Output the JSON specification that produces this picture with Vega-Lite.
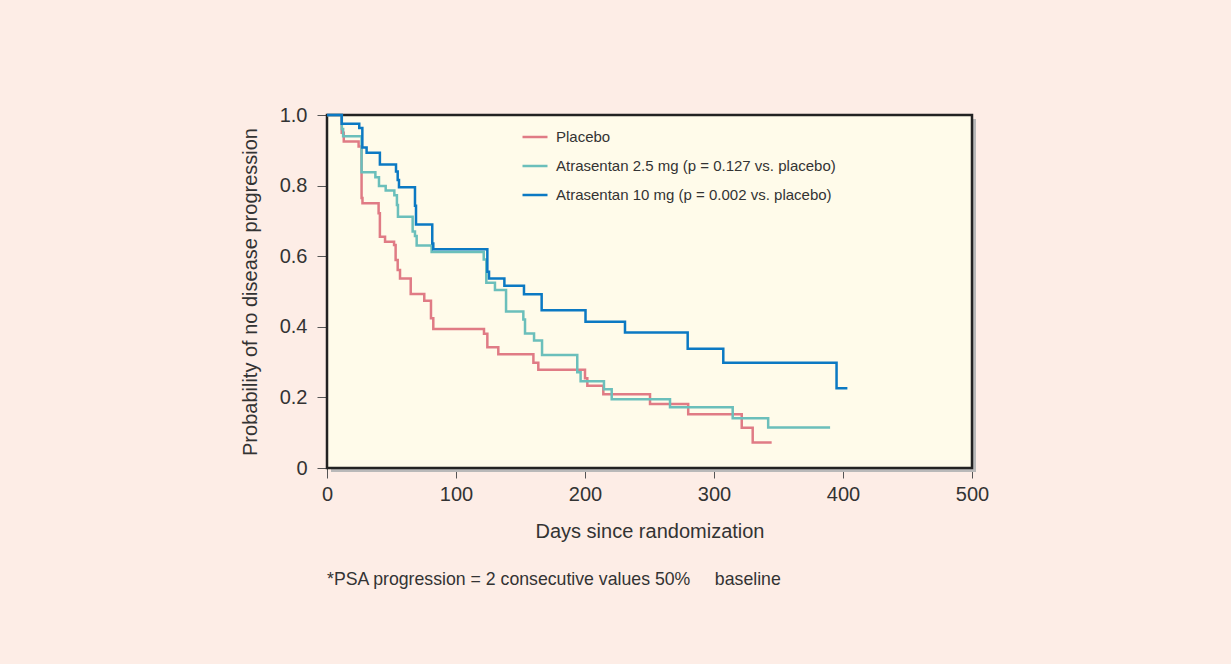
{
  "$schema": "https://vega.github.io/schema/vega-lite/v6.json",
  "width": 645,
  "height": 353,
  "autosize": {"type": "none"},
  "padding": {"left": 327, "top": 115, "right": 259, "bottom": 196},
  "background": "#fdede6",
  "config": {
    "font": "Liberation Sans",
    "view": {"stroke": null},
    "axis": {"grid": false, "domain": false, "labelColor": "#333333", "titleColor": "#333333", "tickColor": "#555555", "labelFontSize": 20, "titleFontSize": 20, "titleFontWeight": "normal", "labelFlush": false, "labelOverlap": false, "tickSize": 10}
  },
  "title": {"text": "*PSA progression = 2 consecutive values 50%\u00a0\u00a0\u00a0\u00a0\u00a0baseline", "orient": "bottom", "anchor": "start", "frame": "group", "fontSize": 17.7, "fontWeight": "normal", "color": "#333333", "offset": 30},
  "datasets": {
    "km": [
      {"group": "Placebo", "day": 0, "s": 1.0},
      {"group": "Placebo", "day": 11.4, "s": 0.95},
      {"group": "Placebo", "day": 13, "s": 0.925},
      {"group": "Placebo", "day": 24.5, "s": 0.911},
      {"group": "Placebo", "day": 26.8, "s": 0.765},
      {"group": "Placebo", "day": 27.5, "s": 0.75},
      {"group": "Placebo", "day": 40, "s": 0.722},
      {"group": "Placebo", "day": 41, "s": 0.655},
      {"group": "Placebo", "day": 45, "s": 0.641},
      {"group": "Placebo", "day": 52, "s": 0.632},
      {"group": "Placebo", "day": 53.2, "s": 0.589},
      {"group": "Placebo", "day": 54.8, "s": 0.561},
      {"group": "Placebo", "day": 56.6, "s": 0.537},
      {"group": "Placebo", "day": 64.9, "s": 0.493},
      {"group": "Placebo", "day": 75.4, "s": 0.474},
      {"group": "Placebo", "day": 80.6, "s": 0.424},
      {"group": "Placebo", "day": 82.4, "s": 0.394},
      {"group": "Placebo", "day": 121.7, "s": 0.38},
      {"group": "Placebo", "day": 124.3, "s": 0.342},
      {"group": "Placebo", "day": 132.8, "s": 0.322},
      {"group": "Placebo", "day": 160, "s": 0.298},
      {"group": "Placebo", "day": 163.8, "s": 0.278},
      {"group": "Placebo", "day": 200, "s": 0.254},
      {"group": "Placebo", "day": 201.8, "s": 0.233},
      {"group": "Placebo", "day": 214.2, "s": 0.209},
      {"group": "Placebo", "day": 250.4, "s": 0.181},
      {"group": "Placebo", "day": 280, "s": 0.152},
      {"group": "Placebo", "day": 321.5, "s": 0.114},
      {"group": "Placebo", "day": 330, "s": 0.072},
      {"group": "Placebo", "day": 344.7, "s": 0.072},
      {"group": "Atrasentan 2.5 mg (p = 0.127 vs. placebo)", "day": 0, "s": 1.0},
      {"group": "Atrasentan 2.5 mg (p = 0.127 vs. placebo)", "day": 11.5, "s": 0.96},
      {"group": "Atrasentan 2.5 mg (p = 0.127 vs. placebo)", "day": 12.5, "s": 0.94},
      {"group": "Atrasentan 2.5 mg (p = 0.127 vs. placebo)", "day": 26.8, "s": 0.838},
      {"group": "Atrasentan 2.5 mg (p = 0.127 vs. placebo)", "day": 37.5, "s": 0.824},
      {"group": "Atrasentan 2.5 mg (p = 0.127 vs. placebo)", "day": 40.3, "s": 0.799},
      {"group": "Atrasentan 2.5 mg (p = 0.127 vs. placebo)", "day": 45.5, "s": 0.786},
      {"group": "Atrasentan 2.5 mg (p = 0.127 vs. placebo)", "day": 52.2, "s": 0.773},
      {"group": "Atrasentan 2.5 mg (p = 0.127 vs. placebo)", "day": 54.2, "s": 0.745},
      {"group": "Atrasentan 2.5 mg (p = 0.127 vs. placebo)", "day": 55, "s": 0.712},
      {"group": "Atrasentan 2.5 mg (p = 0.127 vs. placebo)", "day": 66.4, "s": 0.67},
      {"group": "Atrasentan 2.5 mg (p = 0.127 vs. placebo)", "day": 68.2, "s": 0.657},
      {"group": "Atrasentan 2.5 mg (p = 0.127 vs. placebo)", "day": 69.5, "s": 0.63},
      {"group": "Atrasentan 2.5 mg (p = 0.127 vs. placebo)", "day": 81.1, "s": 0.612},
      {"group": "Atrasentan 2.5 mg (p = 0.127 vs. placebo)", "day": 121.5, "s": 0.591},
      {"group": "Atrasentan 2.5 mg (p = 0.127 vs. placebo)", "day": 123.5, "s": 0.525},
      {"group": "Atrasentan 2.5 mg (p = 0.127 vs. placebo)", "day": 130.2, "s": 0.504},
      {"group": "Atrasentan 2.5 mg (p = 0.127 vs. placebo)", "day": 138.8, "s": 0.443},
      {"group": "Atrasentan 2.5 mg (p = 0.127 vs. placebo)", "day": 152.2, "s": 0.421},
      {"group": "Atrasentan 2.5 mg (p = 0.127 vs. placebo)", "day": 153.5, "s": 0.381},
      {"group": "Atrasentan 2.5 mg (p = 0.127 vs. placebo)", "day": 160.5, "s": 0.361},
      {"group": "Atrasentan 2.5 mg (p = 0.127 vs. placebo)", "day": 166.7, "s": 0.32},
      {"group": "Atrasentan 2.5 mg (p = 0.127 vs. placebo)", "day": 194, "s": 0.271},
      {"group": "Atrasentan 2.5 mg (p = 0.127 vs. placebo)", "day": 196.6, "s": 0.246},
      {"group": "Atrasentan 2.5 mg (p = 0.127 vs. placebo)", "day": 214.7, "s": 0.223},
      {"group": "Atrasentan 2.5 mg (p = 0.127 vs. placebo)", "day": 220.7, "s": 0.195},
      {"group": "Atrasentan 2.5 mg (p = 0.127 vs. placebo)", "day": 265.9, "s": 0.172},
      {"group": "Atrasentan 2.5 mg (p = 0.127 vs. placebo)", "day": 314.5, "s": 0.141},
      {"group": "Atrasentan 2.5 mg (p = 0.127 vs. placebo)", "day": 342, "s": 0.115},
      {"group": "Atrasentan 2.5 mg (p = 0.127 vs. placebo)", "day": 390, "s": 0.115},
      {"group": "Atrasentan 10 mg (p = 0.002 vs. placebo)", "day": 0, "s": 1.0},
      {"group": "Atrasentan 10 mg (p = 0.002 vs. placebo)", "day": 11.4, "s": 0.975},
      {"group": "Atrasentan 10 mg (p = 0.002 vs. placebo)", "day": 25, "s": 0.963},
      {"group": "Atrasentan 10 mg (p = 0.002 vs. placebo)", "day": 27.4, "s": 0.908},
      {"group": "Atrasentan 10 mg (p = 0.002 vs. placebo)", "day": 30.7, "s": 0.893},
      {"group": "Atrasentan 10 mg (p = 0.002 vs. placebo)", "day": 41, "s": 0.86},
      {"group": "Atrasentan 10 mg (p = 0.002 vs. placebo)", "day": 53.5, "s": 0.84},
      {"group": "Atrasentan 10 mg (p = 0.002 vs. placebo)", "day": 54.8, "s": 0.816},
      {"group": "Atrasentan 10 mg (p = 0.002 vs. placebo)", "day": 55.8, "s": 0.795},
      {"group": "Atrasentan 10 mg (p = 0.002 vs. placebo)", "day": 68.2, "s": 0.743},
      {"group": "Atrasentan 10 mg (p = 0.002 vs. placebo)", "day": 69, "s": 0.69},
      {"group": "Atrasentan 10 mg (p = 0.002 vs. placebo)", "day": 81.6, "s": 0.636},
      {"group": "Atrasentan 10 mg (p = 0.002 vs. placebo)", "day": 82.4, "s": 0.62},
      {"group": "Atrasentan 10 mg (p = 0.002 vs. placebo)", "day": 124.3, "s": 0.556},
      {"group": "Atrasentan 10 mg (p = 0.002 vs. placebo)", "day": 125.6, "s": 0.537},
      {"group": "Atrasentan 10 mg (p = 0.002 vs. placebo)", "day": 137.5, "s": 0.516},
      {"group": "Atrasentan 10 mg (p = 0.002 vs. placebo)", "day": 152.7, "s": 0.492},
      {"group": "Atrasentan 10 mg (p = 0.002 vs. placebo)", "day": 166.4, "s": 0.447},
      {"group": "Atrasentan 10 mg (p = 0.002 vs. placebo)", "day": 200.4, "s": 0.414},
      {"group": "Atrasentan 10 mg (p = 0.002 vs. placebo)", "day": 231, "s": 0.384},
      {"group": "Atrasentan 10 mg (p = 0.002 vs. placebo)", "day": 279.6, "s": 0.338},
      {"group": "Atrasentan 10 mg (p = 0.002 vs. placebo)", "day": 307.2, "s": 0.298},
      {"group": "Atrasentan 10 mg (p = 0.002 vs. placebo)", "day": 395, "s": 0.226},
      {"group": "Atrasentan 10 mg (p = 0.002 vs. placebo)", "day": 403.4, "s": 0.226}
    ]
  },
  "layer": [
    {
      "data": {"values": [{}]},
      "mark": {"type": "rect", "fill": "#b9b9b9", "xOffset": 4, "x2Offset": 4, "yOffset": 4, "y2Offset": 4},
      "encoding": {
        "x": {"datum": 0, "type": "quantitative", "scale": {"domain": [0, 500], "nice": false},
          "axis": {"title": "Days since randomization", "values": [0, 100, 200, 300, 400, 500], "labelPadding": 6, "titlePadding": 17}},
        "x2": {"datum": 500},
        "y": {"datum": 0, "type": "quantitative", "scale": {"domain": [0, 1], "nice": false},
          "axis": {"title": "Probability of no disease progression", "values": [0, 0.2, 0.4, 0.6, 0.8, 1.0], "labelExpr": "datum.value == 0 ? '0' : format(datum.value, '.1f')", "labelPadding": 10, "titlePadding": 19}},
        "y2": {"datum": 1}
      }
    },
    {
      "data": {"values": [{}]},
      "mark": {"type": "rect", "fill": "#fffbea", "stroke": "#222222", "strokeWidth": 2.5},
      "encoding": {
        "x": {"datum": 0, "type": "quantitative"},
        "x2": {"datum": 500},
        "y": {"datum": 0, "type": "quantitative"},
        "y2": {"datum": 1}
      }
    },
    {
      "data": {"name": "km"},
      "mark": {"type": "line", "interpolate": "step-after", "strokeWidth": 2.5},
      "encoding": {
        "x": {"field": "day", "type": "quantitative", "title": "Days since randomization"},
        "y": {"field": "s", "type": "quantitative", "title": "Probability of no disease progression"},
        "color": {"field": "group", "type": "nominal",
          "scale": {"domain": ["Placebo", "Atrasentan 2.5 mg (p = 0.127 vs. placebo)", "Atrasentan 10 mg (p = 0.002 vs. placebo)"], "range": ["#e07b85", "#6bbfbb", "#0b79c3"]},
          "legend": {"title": null, "orient": "none", "legendX": 194, "legendY": 8, "direction": "vertical", "symbolType": "stroke", "symbolSize": 625, "symbolStrokeWidth": 2.5, "labelFontSize": 15, "labelColor": "#333333", "labelOffset": 7, "rowPadding": 7, "labelLimit": 0, "padding": 0}}
      }
    }
  ]
}
